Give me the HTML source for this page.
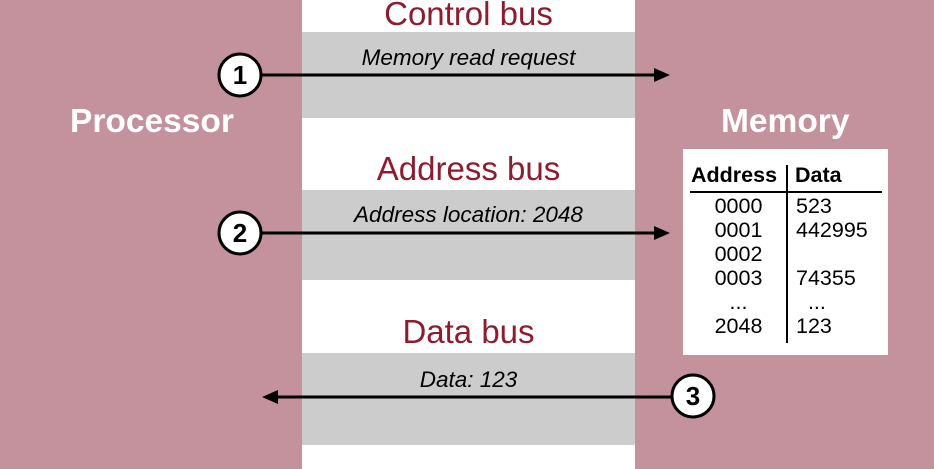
<!DOCTYPE html>
<html><head><style>
body{margin:0;width:934px;height:469px;position:relative;overflow:hidden;background:#fff;font-family:"Liberation Sans",sans-serif}
div{position:absolute}
.pink{background:#c4929c;top:0;height:469px}
.band{background:#cccccc;left:302px;width:333px}
.title{color:#8e1c2e;font-size:33px;width:333px;left:302px;text-align:center}
.lab{font-style:italic;font-size:22.5px;left:302px;width:333px;text-align:center}
.big{color:#fff;font-weight:bold;font-size:33.5px}
.r{font-size:21.5px;line-height:24px}
</style></head><body>
<div class="pink" style="left:0;width:302px"></div>
<div class="pink" style="left:635px;width:299px"></div>
<div class="band" style="top:32px;height:86px"></div>
<div class="band" style="top:190px;height:90px"></div>
<div class="band" style="top:353px;height:92px"></div>
<div class="title" style="top:-5px">Control bus</div>
<div class="title" style="top:150px">Address bus</div>
<div class="title" style="top:313px">Data bus</div>
<div class="lab" style="top:45px">Memory read request</div>
<div class="lab" style="top:202px">Address location: 2048</div>
<div class="lab" style="top:367px">Data: 123</div>
<div class="big" style="left:70px;top:103px">Processor</div>
<div class="big" style="left:721px;top:103px">Memory</div>
<div style="left:683px;top:149px;width:205px;height:206px;background:#fff"></div>
<div style="left:691px;top:163px;font-weight:bold;font-size:21.5px">Address</div>
<div style="left:795px;top:163px;font-weight:bold;font-size:21.5px">Data</div>
<div style="left:690px;top:191px;width:192px;height:2px;background:#000"></div>
<div style="left:786px;top:165px;width:2px;height:178px;background:#000"></div>
<div class="r" style="left:690px;width:97px;text-align:center;top:194px">0000<br>0001<br>0002<br>0003<br>...<br>2048</div>
<div class="r" style="left:796px;top:194px">523<br>442995<br><br>74355<br>&nbsp;&nbsp;...<br>123</div>
<svg width="934" height="469" style="position:absolute;left:0;top:0">
<g stroke="#000" stroke-width="3">
<line x1="262" y1="75" x2="655" y2="75"/>
<line x1="262" y1="233" x2="655" y2="233"/>
<line x1="276" y1="397" x2="671" y2="397"/>
</g>
<polygon points="670,75 654,68 654,82"/>
<polygon points="670,233 654,226 654,240"/>
<polygon points="262,397 278,390 278,404"/>
<g fill="#fff" stroke="#000" stroke-width="3">
<circle cx="240" cy="75" r="21"/>
<circle cx="240" cy="233" r="21"/>
<circle cx="693" cy="396" r="21"/>
</g>
<g font-family="Liberation Sans" font-weight="bold" font-size="26" text-anchor="middle">
<text x="240" y="84">1</text>
<text x="240" y="242">2</text>
<text x="693" y="405">3</text>
</g>
</svg>
</body></html>
